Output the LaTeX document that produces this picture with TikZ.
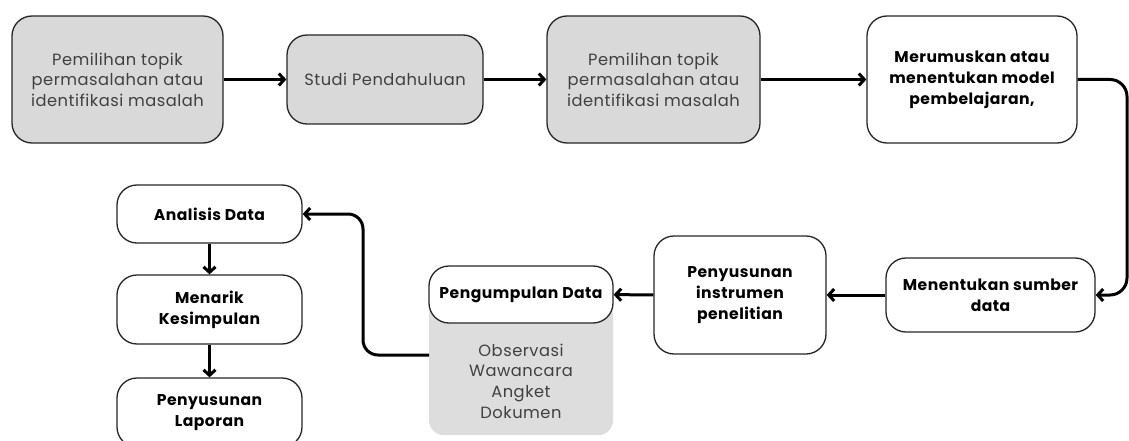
\documentclass[tikz,border=0pt]{standalone}
\usepackage{fontspec}
\setmainfont{Poppins}[LetterSpace=3]
\usetikzlibrary{arrows.meta}
\definecolor{boxgray}{HTML}{D9D9D9}
\definecolor{subgray}{HTML}{DDDDDD}
\definecolor{txtgray}{HTML}{404040}
\definecolor{edge}{HTML}{262626}
\begin{document}
\begin{tikzpicture}[x=1pt,y=-1pt,
  box/.style={draw=edge, line width=1.3pt, rounded corners=20pt, align=center, inner sep=0pt},
  graybox/.style={box, fill=boxgray, text=txtgray, font=\fontsize{16.3}{20.5}\selectfont},
  whitebox/.style={box, fill=white, text=black, font=\bfseries\fontsize{15.6}{21}\selectfont},
  conn/.style={line width=3pt, -{Straight Barb[length=5.5pt,width=12pt]}, rounded corners=15pt}]
\useasboundingbox (0,0) rectangle (1129,441);
% top row
\node[graybox, minimum width=211pt, minimum height=127pt] (b1) at (117.5,79.5) {Pemilihan topik\\permasalahan atau\\identifikasi masalah};
\node[graybox, minimum width=196pt, minimum height=89pt] (b2) at (385,79.5) {Studi Pendahuluan};
\node[graybox, minimum width=213pt, minimum height=127pt] (b3) at (653.5,79.5) {Pemilihan topik\\permasalahan atau\\identifikasi masalah};
\node[whitebox, minimum width=210pt, minimum height=127pt] (b4) at (972,79.5) {Merumuskan atau\\menentukan model\\pembelajaran,};
% bottom row
\node[whitebox, minimum width=209pt, minimum height=74pt] (ms) at (990.5,295) {Menentukan sumber\\data};
\node[whitebox, minimum width=172pt, minimum height=118pt] (pi) at (740,295) {Penyusunan\\instrumen\\penelitian};
\node[fill=subgray, rounded corners=15pt, minimum width=184pt, minimum height=135pt, inner sep=0pt, anchor=north] (sub) at (521,300) {};
\node[text=txtgray, align=center, font=\fontsize{16.3}{20.7}\selectfont, inner sep=0pt] (subtxt) at (521,381) {Observasi\\Wawancara\\Angket\\Dokumen};
\node[whitebox, minimum width=184pt, minimum height=57pt] (pd) at (521,294.5) {Pengumpulan Data};
\node[whitebox, minimum width=185pt, minimum height=58pt] (an) at (209.5,214) {Analisis Data};
\node[whitebox, minimum width=185pt, minimum height=69pt] (mk) at (209.5,309.5) {Menarik\\Kesimpulan};
\node[whitebox, minimum width=185pt, minimum height=69pt] (lp) at (209.5,412.5) {Penyusunan\\Laporan};
% helper coordinates
\coordinate (rc) at (1127,0);
\coordinate (lc) at (363,0);
\coordinate (gs) at (429,355);
% connectors
\draw[conn] (b1) -- (b2);
\draw[conn] (b2) -- (b3);
\draw[conn] (b3) -- (b4);
\draw[conn, rounded corners=17pt] (b4.east) -- (b4.east -| rc) -- (ms.east -| rc) -- (ms.east);
\draw[conn] (ms) -- (pi);
\draw[conn] (pi) -- (pd);
\draw[conn] (gs) -| (lc |- an.east) -- (an.east);
\draw[conn] (an) -- (mk);
\draw[conn] (mk) -- (lp);
\end{tikzpicture}
\end{document}
